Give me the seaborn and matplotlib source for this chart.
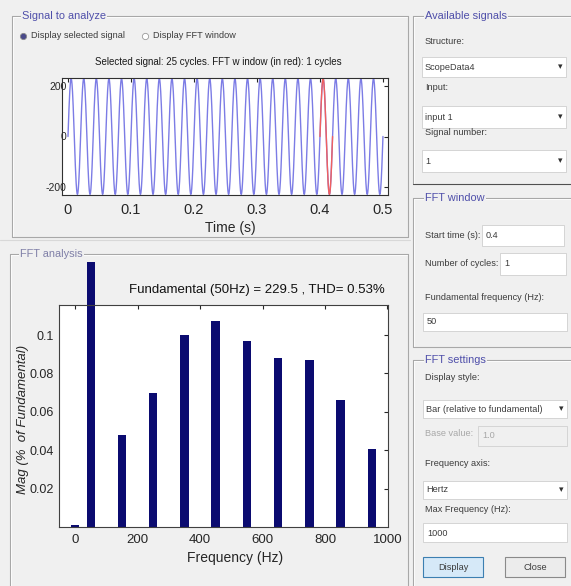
import numpy as np
import matplotlib
matplotlib.use("Agg")
import matplotlib.pyplot as plt
import seaborn as sns
from matplotlib.patches import Rectangle
from matplotlib.lines import Line2D
from matplotlib.transforms import Bbox, TransformedBbox

# ---- spectrum data (percent of fundamental) ----
freq_hz = [0, 50, 150, 250, 350, 450, 550, 650, 750, 850, 950]
mag_pct = [0.001, 100, 0.048, 0.070, 0.100, 0.1075, 0.097, 0.088, 0.087, 0.066, 0.0405]
fund_hz = 50
fund_amp = 229.5
thd_pct = 0.53
n_cycles_total = 25
fft_start = 0.4
fft_cycles = 1

time_ticks = [0, 0.1, 0.2, 0.3, 0.4, 0.5]
sig_ticks = [-200, 0, 200]
freq_ticks = [0, 200, 400, 600, 800, 1000]
mag_ticks = [0.02, 0.04, 0.06, 0.08, 0.1]

sns.set_style("white")
plt.rcParams["font.family"] = ["Liberation Sans", "DejaVu Sans"]
plt.rcParams["axes.unicode_minus"] = False

W, H = 571, 586
BG = "#f0f0f0"
GUI_FS = 6.6
TITLE_FS = 7.9
fig = plt.figure(figsize=(W / 100, H / 100), dpi=100, facecolor=BG)


def fx(x):
    return x / W


def fy(y):
    return 1 - y / H


def ax_rect(l, t, r, b):
    return [l / W, 1 - b / H, (r - l) / W, (b - t) / H]


def ln(x0, y0, x1, y1, c="#a8a8a8", lw=0.8, z=1):
    fig.add_artist(Line2D([fx(x0), fx(x1)], [fy(y0), fy(y1)],
                          transform=fig.transFigure, color=c, lw=lw, zorder=z))


def box(x0, y0, x1, y1, fc="white", ec="#cfcfcf", lw=0.6):
    fig.add_artist(Rectangle((fx(x0), fy(y1)), (x1 - x0) / W, (y1 - y0) / H,
                             transform=fig.transFigure, fc=fc, ec=ec, lw=lw, zorder=1))


def txt(x, y, s, size=GUI_FS, color="#3c3c3c", ha="left", **kw):
    fig.text(fx(x), fy(y), s, fontsize=size, color=color, ha=ha, va="center", **kw)


def panel(x0, y0, x1, y1, title, tx, bottom_c="#a8a8a8", title_c="#4f4faa"):
    ln(x0, y0, x1, y0)
    ln(x0, y0, x0, y1)
    ln(x1, y0, x1, y1)
    ln(x0, y1, x1, y1, c=bottom_c)
    ln(x0 + 1, y0 + 1, x1 - 1, y0 + 1, c="white", lw=0.6)
    ln(x0 + 1, y0 + 1, x0 + 1, y1 - 1, c="white", lw=0.6)
    txt(tx, y0, title, size=TITLE_FS, color=title_c,
        bbox=dict(fc=BG, ec="none", pad=0.6), zorder=3)


def dropdown(x0, y0, x1, y1, s, color="#3c3c3c", arrow=True):
    box(x0, y0, x1, y1)
    txt(x0 + 3, (y0 + y1) / 2, s, color=color)
    if arrow:
        txt(x1 - 6, (y0 + y1) / 2, "\u25be", size=6.5, color="#303030", ha="center")


# ---- GUI frames ----
panel(12, 16, 408, 237, "Signal to analyze", 22)
panel(10, 254, 408, 600, "FFT analysis", 20, title_c="#8080a8")
ln(0, 240, 410, 240, c="#d8d8d8")
panel(413, 16, 580, 184, "Available signals", 425, bottom_c="#505050")
panel(413, 198, 580, 347, "FFT window", 425)
panel(413, 360, 580, 600, "FFT settings", 425)

# radio buttons
fig.add_artist(Line2D([fx(23)], [fy(36)], transform=fig.transFigure, marker="o", ms=4.5,
                      mfc="#4a4a8a", mec="#8a8a8a", mew=0.6, ls="none"))
txt(31, 36, "Display selected signal")
fig.add_artist(Line2D([fx(145)], [fy(36)], transform=fig.transFigure, marker="o", ms=4.5,
                      mfc="white", mec="#9a9a9a", mew=0.6, ls="none"))
txt(153, 36, "Display FFT window")

# right-hand controls
txt(425, 42, "Structure:")
dropdown(422, 57, 566, 77, "ScopeData4")
txt(425, 88, "Input:")
dropdown(422, 106, 566, 128, "input 1")
txt(425, 133, "Signal number:")
dropdown(422, 150, 566, 172, "1")

txt(425, 235, "Start time (s):")
box(482, 225, 564, 246)
txt(486, 235, str(fft_start))
txt(425, 264, "Number of cycles:")
box(500, 253, 566, 275)
txt(504, 264, str(fft_cycles))
txt(425, 298, "Fundamental frequency (Hz):")
box(423, 313, 567, 331)
txt(427, 322, str(fund_hz))

txt(425, 378, "Display style:")
dropdown(423, 400, 567, 418, "Bar (relative to fundamental)")
txt(425, 434, "Base value:", color="#a8a8a8")
box(478, 426, 567, 446, fc=BG, ec="#d0d0d0")
txt(482, 436, "1.0", color="#a8a8a8")
txt(425, 463, "Frequency axis:")
dropdown(423, 481, 567, 499, "Hertz")
txt(425, 510, "Max Frequency (Hz):")
box(423, 523, 567, 542)
txt(427, 533, str(freq_ticks[-1]))

box(423, 557, 483, 577, fc="#d6e9f8", ec="#3c7fb1", lw=0.8)
txt(453, 567, "Display", ha="center")
box(505, 557, 565, 577, fc="#ececec", ec="#8a8a8a", lw=0.8)
txt(535, 567, "Close", ha="center")

# ---- time-domain signal rebuilt from the harmonic content ----
t_end = n_cycles_total / fund_hz
t = np.arange(0, t_end + 1e-9, 1e-4)
sig = np.zeros_like(t)
for f, m in zip(freq_hz, mag_pct):
    a = fund_amp * m / 100.0
    sig += a if f == 0 else a * np.sin(2 * np.pi * f * t)
win = (t >= fft_start) & (t <= fft_start + fft_cycles / fund_hz)

ax1 = fig.add_axes(ax_rect(62, 78, 388, 195))
sns.lineplot(x=t, y=sig, ax=ax1, color="#5050dd", lw=1.0, alpha=0.75,
             sort=False, estimator=None)
sns.lineplot(x=t[win], y=sig[win], ax=ax1, color="#f06060", lw=1.0,
             sort=False, estimator=None)
ax1.set_xlim(-0.0095, 0.508)
ax1.set_ylim(-232, 232)
ax1.set_xticks(time_ticks)
ax1.set_xticklabels([f"{v:g}" for v in time_ticks])
ax1.set_yticks(sig_ticks)
ax1.set_xlabel("")
ax1.set_ylabel("")
ax1.tick_params(axis="x", direction="in", length=3, top=True, labelsize=10.5, pad=6)
ax1.tick_params(axis="y", direction="in", length=3, right=True, labelsize=7.5, pad=-3.5)
for s in ax1.spines.values():
    s.set_color("#303030")
    s.set_linewidth(0.8)
fig.text(fx(218.5), fy(62),
         f"Selected signal: {n_cycles_total} cycles. FFT w indow (in red): {fft_cycles} cycles",
         fontsize=7, ha="center", va="center", color="#1a1a1a")
fig.text(fx(230), fy(228), "Time (s)", fontsize=10, ha="center", va="center")

# ---- spectrum bars ----
ax2 = fig.add_axes(ax_rect(59, 305, 388, 527))
sns.barplot(x=freq_hz, y=mag_pct, ax=ax2, native_scale=True, width=0.54,
            color="#0b0b70", saturation=1, errorbar=None, linewidth=0)
clip = TransformedBbox(Bbox.from_extents(fx(59), fy(531), fx(388), fy(262)), fig.transFigure)
for p in ax2.patches:
    p.set_clip_box(clip)
ax2.set_xlim(-52, 1002)
ax2.set_ylim(0, 0.1157)
ax2.set_xticks(freq_ticks)
ax2.set_xticklabels([str(v) for v in freq_ticks])
ax2.set_yticks(mag_ticks)
ax2.set_yticklabels([f"{v:g}" for v in mag_ticks])
ax2.set_xlabel("")
ax2.set_ylabel("")
ax2.tick_params(axis="x", direction="in", length=3, top=True, labelsize=9.5, pad=5)
ax2.tick_params(axis="y", direction="in", length=3, right=True, labelsize=9, pad=4)
for s in ax2.spines.values():
    s.set_color("#404040")
    s.set_linewidth(0.8)
fig.text(fx(257), fy(290),
         f"Fundamental ({fund_hz}Hz) = {fund_amp} , THD= {thd_pct}%",
         fontsize=9.5, ha="center", va="center", color="#111111")
fig.text(fx(235), fy(558), "Frequency (Hz)", fontsize=10, ha="center", va="center")
fig.text(fx(23), fy(419), "Mag (%  of Fundamental)", fontsize=9.5, style="italic",
         rotation=90, ha="center", va="center")

fig.savefig("out.png", dpi=100, facecolor=BG)
